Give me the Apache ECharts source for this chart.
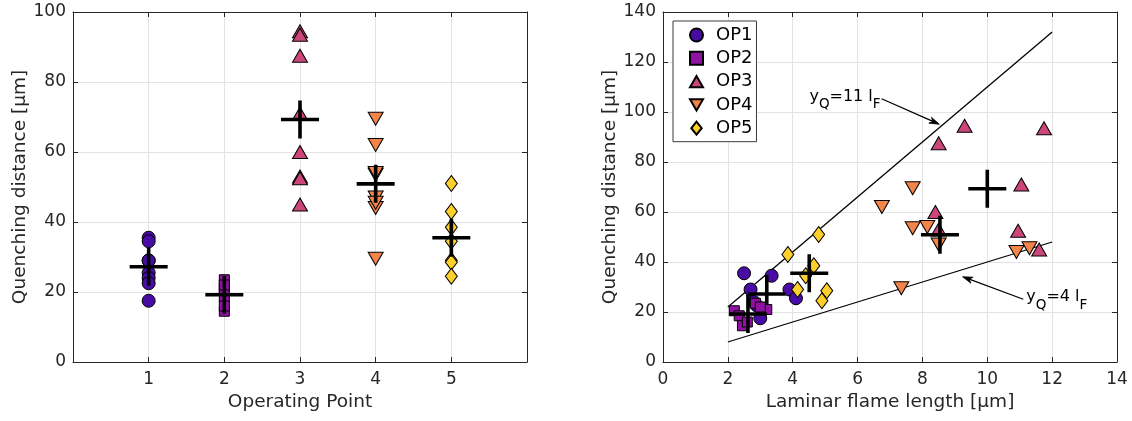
<!DOCTYPE html>
<html>
<head>
<meta charset="utf-8">
<script src="https://cdn.jsdelivr.net/npm/echarts@6/dist/echarts.min.js"></script>
<style>
  html, body { margin: 0; padding: 0; background: #ffffff; }
  #chart { width: 1132px; height: 421px; }
</style>
</head>
<body>
<div id="chart"></div>
<script>
// ---- data -------------------------------------------------------------
const opNames = ['OP1', 'OP2', 'OP3', 'OP4', 'OP5'];
const opIndex = [1, 2, 3, 4, 5];

// laminar flame length [µm] and quenching distance [µm] per operating point
const op1Flame   = [2.5, 3.35, 2.7, 3.9, 4.1, 2.8, 2.9, 3.0];
const op1Quench  = [35.5, 34.5, 29, 29, 25.5, 24, 22.5, 17.5];
const op2Flame   = [2.2, 2.35, 2.45, 2.85, 3.2, 3.0, 2.6];
const op2Quench  = [20.5, 18.5, 14.5, 23.5, 21, 22, 16];
const op3Flame   = [9.3, 11.75, 8.5, 11.05, 8.4, 8.5, 10.95, 11.6];
const op3Quench  = [94.5, 93.5, 87.5, 71, 60, 53, 52.5, 45];
const op4Flame   = [7.7, 6.75, 7.7, 8.15, 8.5, 10.9, 11.3, 7.35];
const op4Quench  = [69.5, 62, 53.5, 54, 47, 44, 45.5, 29.5];
const op5Flame   = [4.8, 3.85, 4.65, 4.4, 4.15, 5.05, 4.9];
const op5Quench  = [51, 43, 38.5, 34.5, 29, 28.5, 24.5];

// mean of each operating point
const meanFlame  = [3.2, 2.62, 10.0, 8.54, 4.51];
const meanQuench = [27.2, 19.2, 69.3, 50.9, 35.5];

// reference lines y_Q = 11 l_F and y_Q = 4 l_F
const upperLine = [[2, 22], [12, 132]];
const lowerLine = [[2, 8], [12, 48]];

// annotation arrows: [tail l_F, tail y_Q, head l_F, head y_Q]
const arrowUpper = [6.74, 105.3, 8.52, 95.1];
const arrowLower = [11.11, 25.1, 9.24, 34.1];
const arrowTexts = [['y', 'Q', '=11 l', 'F'], ['y', 'Q', '=4 l', 'F']];

// axis ticks
const leftXTicks  = [0, 6, 1];
const leftYTicks  = [0, 100, 20];
const rightXTicks = [0, 14, 2];
const rightYTicks = [0, 140, 20];

// ---- styling ----------------------------------------------------------
const FONT = 'DejaVu Sans';
const AXIS_COLOR = '#262626';
const GRID_COLOR = '#e3e3e3';
const opColors = ['#480ca5', '#8f12a3', '#cc4679', '#f3854b', '#fccf2a'];
const opSymbols = ['circle', 'rect', 'triangle', 'triangle', 'diamond'];
const opSizes = [13, 10, [15, 13], [15, 13], [12, 16]];
const opRotate = [0, 0, 0, 180, 0];
const legendIcons = ['circle', 'rect', 'path://M7.5,0L15,13L0,13Z', 'path://M0,0L15,0L7.5,13Z', 'path://M6,0L12,7.5L6,15L0,7.5Z'];
const PLUS = 'path://M17.2,0H20.8V17.2H38V20.8H20.8V38H17.2V20.8H0V17.2H17.2Z';

const flames  = [op1Flame, op2Flame, op3Flame, op4Flame, op5Flame];
const quenchs = [op1Quench, op2Quench, op3Quench, op4Quench, op5Quench];

function valueAxis(gridIndex, ticks, pos, opts) {
  const main = pos === 'bottom' || pos === 'left';
  return Object.assign({
    type: 'value', gridIndex: gridIndex, position: pos,
    min: ticks[0], max: ticks[1], interval: ticks[2],
    axisLine: { show: true, onZero: false, lineStyle: { color: AXIS_COLOR, width: 1 } },
    axisTick: { show: true, inside: true, length: 5, lineStyle: { color: AXIS_COLOR } },
    axisLabel: { show: main, color: AXIS_COLOR, fontFamily: FONT, fontSize: 17, margin: 7 },
    splitLine: { show: main, lineStyle: { color: GRID_COLOR, width: 1 } },
    nameTextStyle: { color: AXIS_COLOR, fontFamily: FONT, fontSize: 18.5 }
  }, opts || {});
}

const xAxes = [
  valueAxis(0, leftXTicks, 'bottom', {
    name: 'Operating Point', nameLocation: 'middle', nameGap: 30,
    axisLabel: { show: true, color: AXIS_COLOR, fontFamily: FONT, fontSize: 17, margin: 9,
      formatter: v => (v === leftXTicks[0] || v === leftXTicks[1]) ? '' : String(v) }
  }),
  valueAxis(0, leftXTicks, 'top'),
  valueAxis(1, rightXTicks, 'bottom', {
    name: 'Laminar flame length [µm]', nameLocation: 'middle', nameGap: 30,
    axisLabel: { show: true, color: AXIS_COLOR, fontFamily: FONT, fontSize: 17, margin: 9 }
  }),
  valueAxis(1, rightXTicks, 'top')
];
const yAxes = [
  valueAxis(0, leftYTicks, 'left', { name: 'Quenching distance [µm]', nameLocation: 'middle', nameGap: 40 }),
  valueAxis(0, leftYTicks, 'right'),
  valueAxis(1, rightYTicks, 'left', { name: 'Quenching distance [µm]', nameLocation: 'middle', nameGap: 40 }),
  valueAxis(1, rightYTicks, 'right')
];

const series = [];

// reference lines (under the markers)
[upperLine, lowerLine].forEach(function (pts) {
  series.push({
    type: 'line', xAxisIndex: 2, yAxisIndex: 2, data: pts, symbol: 'none', silent: true,
    lineStyle: { color: '#000', width: 1.3 }, z: 1
  });
});

function pointStyle(i) {
  return {
    symbol: opSymbols[i], symbolSize: opSizes[i], symbolRotate: opRotate[i],
    itemStyle: { color: opColors[i], borderColor: '#000', borderWidth: 1, opacity: 1 },
    emphasis: { disabled: true }
  };
}
function meanStyle() {
  return {
    symbol: PLUS, symbolSize: 38, silent: true,
    itemStyle: { color: '#000', opacity: 1 }, emphasis: { disabled: true }
  };
}

// left panel: quenching distance per operating point
opNames.forEach(function (name, i) {
  series.push(Object.assign({
    type: 'scatter', name: name, xAxisIndex: 0, yAxisIndex: 0,
    data: quenchs[i].map(q => [opIndex[i], q])
  }, pointStyle(i)));
  series.push(Object.assign({
    type: 'scatter', name: name + ' mean', xAxisIndex: 0, yAxisIndex: 0,
    data: [[opIndex[i], meanQuench[i]]]
  }, meanStyle()));
});

// right panel: quenching distance against laminar flame length
opNames.forEach(function (name, i) {
  series.push(Object.assign({
    type: 'scatter', name: name, xAxisIndex: 2, yAxisIndex: 2,
    data: flames[i].map((f, j) => [f, quenchs[i][j]])
  }, pointStyle(i)));
  series.push(Object.assign({
    type: 'scatter', name: name + ' mean', xAxisIndex: 2, yAxisIndex: 2,
    data: [[meanFlame[i], meanQuench[i]]]
  }, meanStyle()));
});

// annotation arrows with their labels
series.push({
  type: 'custom', xAxisIndex: 2, yAxisIndex: 2, silent: true, z: 5,
  data: [arrowUpper, arrowLower],
  encode: { x: [0, 2], y: [1, 3] },
  renderItem: function (params, api) {
    const t = api.coord([api.value(0), api.value(1)]);
    const h = api.coord([api.value(2), api.value(3)]);
    const ang = Math.atan2(h[1] - t[1], h[0] - t[0]);
    const L = 10, W = 3.2, B = 7;
    const ux = Math.cos(ang), uy = Math.sin(ang);
    const px = -uy, py = ux;
    const head = [
      [h[0], h[1]],
      [h[0] - L * ux + W * px, h[1] - L * uy + W * py],
      [h[0] - B * ux, h[1] - B * uy],
      [h[0] - L * ux - W * px, h[1] - L * uy - W * py]
    ];
    const s = arrowTexts[params.dataIndex];
    const leftSide = t[0] < h[0];
    return {
      type: 'group',
      children: [
        { type: 'line', shape: { x1: t[0], y1: t[1], x2: h[0] - B * ux, y2: h[1] - B * uy },
          style: { stroke: '#000', lineWidth: 1.2 } },
        { type: 'polygon', shape: { points: head }, style: { fill: '#000', stroke: '#000', lineWidth: 0.8 } },
        { type: 'text', x: leftSide ? t[0] - 1 : t[0] + 3, y: t[1] - 2,
          style: {
            text: '{m|' + s[0] + '}{s|' + s[1] + '}{m|' + s[2] + '}{s|' + s[3] + '}',
            align: leftSide ? 'right' : 'left', verticalAlign: 'middle',
            rich: {
              m: { fontFamily: FONT, fontSize: 16, fill: '#000', color: '#000' },
              s: { fontFamily: FONT, fontSize: 13.5, fill: '#000', color: '#000', padding: [16, 0, 0, 0] }
            }
          } }
      ]
    };
  }
});

const option = {
  animation: false,
  backgroundColor: '#ffffff',
  grid: [
    { left: 73, top: 12, right: 605, bottom: 59, containLabel: false },
    { left: 663, top: 12, right: 15, bottom: 59, containLabel: false }
  ],
  xAxis: xAxes,
  yAxis: yAxes,
  legend: {
    data: opNames.map((n, i) => ({ name: n, icon: legendIcons[i] })),
    orient: 'vertical', left: 673, top: 21,
    itemWidth: 13, itemHeight: 13, itemGap: 4.3,
    symbolKeepAspect: true,
    padding: [4.5, 4, 4, 16],
    borderColor: '#3a3a3a', borderWidth: 1, backgroundColor: '#ffffff',
    selectedMode: false,
    textStyle: { fontFamily: FONT, fontSize: 18, color: '#000', lineHeight: 19, padding: [0, 0, 0, 8] },
    z: 10
  },
  series: series
};

const chart = echarts.init(document.getElementById('chart'));
chart.setOption(option);
</script>
</body>
</html>
